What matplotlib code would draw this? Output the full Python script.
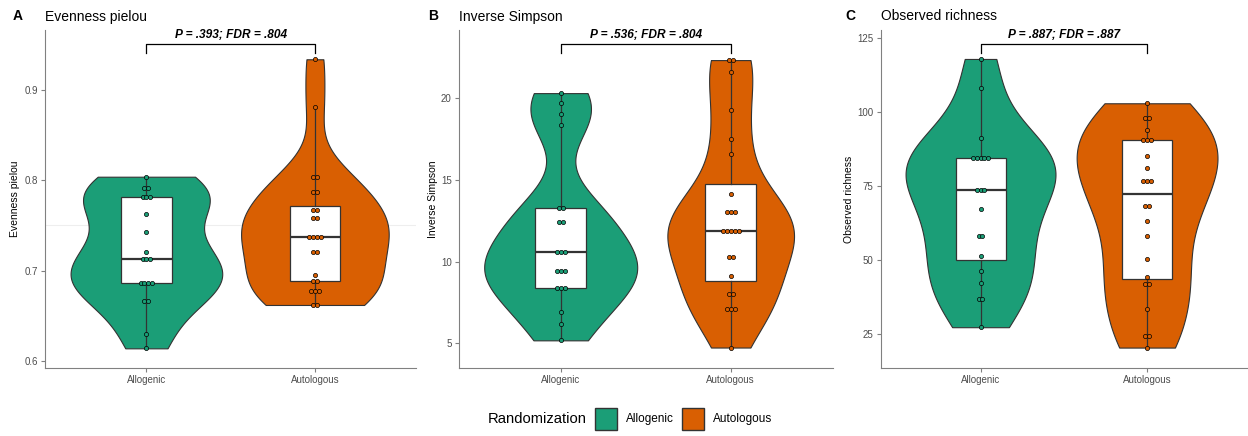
import numpy as np
import matplotlib
matplotlib.use("Agg")
import matplotlib.pyplot as plt
from matplotlib.patches import Rectangle

plt.rcParams['font.family'] = ['Liberation Sans', 'DejaVu Sans']

# groups and colours
groups = ['Allogenic', 'Autologous']
colors = ['#1B9E77', '#D95F02']

# panel A - Evenness pielou
even_allo = [0.804, 0.792, 0.792, 0.781, 0.781, 0.781, 0.763, 0.743, 0.721, 0.713,
             0.713, 0.713, 0.686, 0.686, 0.686, 0.686, 0.666, 0.666, 0.630, 0.614]
even_auto = [0.934, 0.881, 0.804, 0.804, 0.787, 0.787, 0.767, 0.767, 0.758, 0.758,
             0.737, 0.737, 0.737, 0.737, 0.721, 0.721, 0.695, 0.688, 0.688, 0.677,
             0.677, 0.677, 0.662, 0.662]

# panel B - Inverse Simpson
invs_allo = [20.3, 19.7, 19.05, 18.35, 13.27, 13.27, 12.39, 12.39, 10.59, 10.59,
             10.59, 9.45, 9.45, 9.45, 8.37, 8.37, 8.37, 6.91, 6.2, 5.18]
invs_auto = [22.32, 22.32, 21.59, 19.29, 17.5, 16.59, 14.16, 13.0, 13.0, 13.0,
             11.87, 11.87, 11.87, 11.87, 11.87, 10.27, 10.27, 9.1, 8.03, 8.03,
             7.12, 7.12, 7.12, 4.74]

# panel C - Observed richness
rich_allo = [118, 108.1, 91.1, 84.6, 84.6, 84.6, 84.6, 84.6, 73.6, 73.6,
             73.6, 67.2, 58.2, 58.2, 51.2, 46.2, 42.2, 36.8, 36.8, 27.2]
rich_auto = [103, 98.1, 98.1, 94.0, 90.4, 90.4, 90.4, 85.1, 81.2, 76.8,
             76.8, 76.8, 68.1, 68.1, 63.2, 58.2, 50.2, 44.3, 41.8, 41.8,
             33.2, 24.2, 24.2, 20.3]

letters = ['A', 'B', 'C']
titles = ['Evenness pielou', 'Inverse Simpson', 'Observed richness']
pvals = ['P = .393; FDR = .804', 'P = .536; FDR = .804', 'P = .887; FDR = .887']
yticks = [[0.6, 0.7, 0.8, 0.9], [5, 10, 15, 20], [25, 50, 75, 100, 125]]
yticklabels = [['0.6', '0.7', '0.8', '0.9'], ['5', '10', '15', '20'],
               ['25', '50', '75', '100', '125']]
ylims = [(0.5919, 0.9664), (3.47, 24.16), (13.29, 127.8)]
panel_data = [[even_allo, even_auto], [invs_allo, invs_auto], [rich_allo, rich_auto]]

W, H = 1248, 436
fig = plt.figure(figsize=(W / 100, H / 100), dpi=100)

# axes boxes in pixels: left, right
ax_px = [(45.3, 416.0), (458.7, 832.7), (880.6, 1247.0)]
top_px, bot_px = 30.0, 368.3
ylab_x = [15, 432.7, 849]
letter_x = [12.3, 428.3, 845]

edge = '#333333'
axis_gray = '#808080'


def density(vals, n=512):
    # gaussian kde with R's bw.nrd0, trimmed to data range
    v = np.asarray(vals, float)
    sd = v.std(ddof=1)
    iqr = np.subtract(*np.percentile(v, [75, 25]))
    lo = min(sd, iqr / 1.34) if iqr > 0 else sd
    bw = 0.9 * lo * len(v) ** (-0.2)
    y = np.linspace(v.min(), v.max(), n)
    d = np.exp(-0.5 * ((y[:, None] - v[None, :]) / bw) ** 2).sum(1)
    d /= len(v) * bw * np.sqrt(2 * np.pi)
    return y, d


for i in range(3):
    l, r = ax_px[i]
    ax = fig.add_axes([l / W, (H - bot_px) / H, (r - l) / W, (bot_px - top_px) / H])
    ax.set_xlim(0.4, 2.6)
    ax.set_ylim(*ylims[i])
    unit_px = (r - l) / 2.2
    step = 3.9 / unit_px

    dens = [density(g) for g in panel_data[i]]
    dmax = max(d.max() for _, d in dens)

    for j, vals in enumerate(panel_data[i]):
        pos = j + 1
        y, d = dens[j]
        hw = 0.45 * d / dmax
        ax.fill_betweenx(y, pos - hw, pos + hw, facecolor=colors[j],
                         edgecolor=edge, linewidth=0.8, zorder=1)
        ax.boxplot([vals], positions=[pos], widths=0.3, showfliers=False,
                   showcaps=False, patch_artist=True, manage_ticks=False,
                   boxprops=dict(facecolor='white', edgecolor=edge, linewidth=0.9),
                   medianprops=dict(color=edge, linewidth=1.6),
                   whiskerprops=dict(color=edge, linewidth=0.9), zorder=2)
        uv, cnt = np.unique(vals, return_counts=True)
        for v, c in zip(uv, cnt):
            offs = (np.arange(c) - (c - 1) / 2) * step
            ax.plot(pos + offs, [v] * c, 'o', ms=3.0, mfc=colors[j], mec='black',
                    mew=0.5, zorder=3, clip_on=False)

    if i == 0:
        ax.axhline(0.75, color='#EEEEEE', lw=0.8, zorder=0)

    # significance bracket
    yb, yt = 0.958, 0.931
    ax.plot([1, 1, 2, 2], [yt, yb, yb, yt], color='black', lw=0.9,
            transform=ax.get_xaxis_transform(), clip_on=False)
    ax.text(1.5, 0.986, pvals[i], transform=ax.get_xaxis_transform(), ha='center',
            va='center', fontsize=8.6, fontweight='bold', fontstyle='italic')

    ax.set_xticks([1, 2])
    ax.set_xticklabels(groups)
    ax.set_yticks(yticks[i])
    ax.set_yticklabels(yticklabels[i])
    ax.tick_params(colors=axis_gray, labelcolor='#4D4D4D', labelsize=7,
                   length=3, width=0.8, pad=2)
    for s in ['top', 'right']:
        ax.spines[s].set_visible(False)
    for s in ['left', 'bottom']:
        ax.spines[s].set_color(axis_gray)
        ax.spines[s].set_linewidth(0.8)

    fig.text(ylab_x[i] / W, 1 - 199 / H, titles[i], rotation=90, ha='center',
             va='center', fontsize=7.5)
    fig.text(letter_x[i] / W, 1 - 20.5 / H, letters[i], fontsize=10,
             fontweight='bold', va='baseline')
    fig.text(l / W, 1 - 20.5 / H, titles[i], fontsize=10, va='baseline')

# legend
ly = 1 - 419 / H
fig.text(488 / W, ly, 'Randomization', fontsize=10.6, va='center')
key_x = [594.7, 682.3]
lab_x = [625.7, 712.7]
for j in range(2):
    fig.add_artist(Rectangle((key_x[j] / W, (H - 430) / H), 22 / W, 22 / H,
                             transform=fig.transFigure, facecolor=colors[j],
                             edgecolor=edge, linewidth=1.0))
    fig.text(lab_x[j] / W, ly, groups[j], fontsize=8.5, va='center')

fig.savefig('out.png', dpi=100)
